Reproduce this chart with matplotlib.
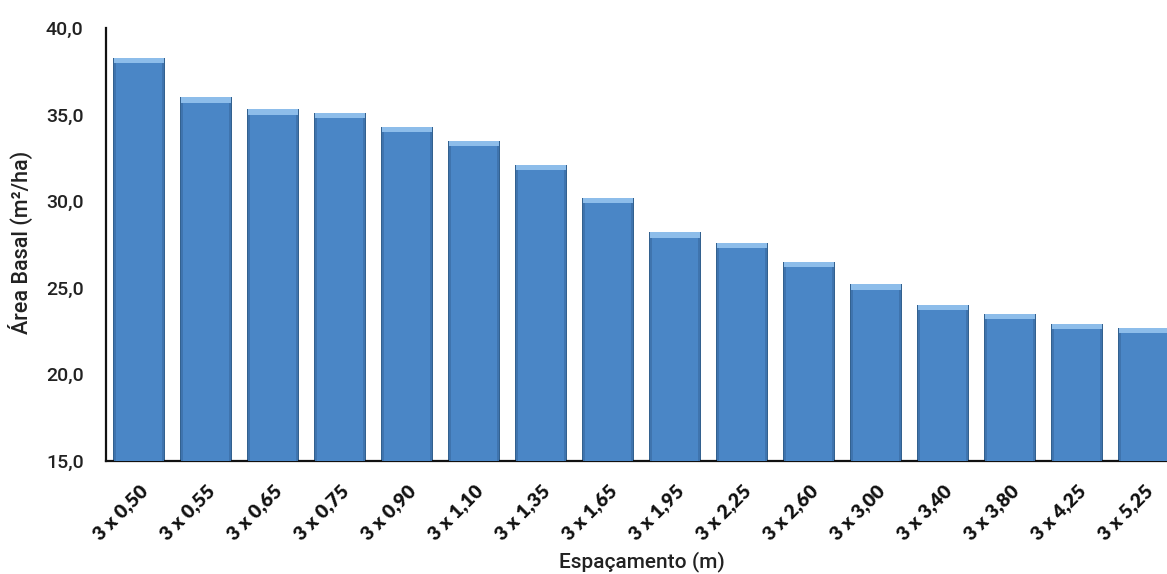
import matplotlib.pyplot as plt
from matplotlib.font_manager import FontProperties
import numpy as np

# Spacing treatments and basal area (m2/ha)
espacamentos = ['3 x 0,50', '3 x 0,55', '3 x 0,65', '3 x 0,75', '3 x 0,90', '3 x 1,10',
                '3 x 1,35', '3 x 1,65', '3 x 1,95', '3 x 2,25', '3 x 2,60', '3 x 3,00',
                '3 x 3,40', '3 x 3,80', '3 x 4,25', '3 x 5,25']
area_basal = [38.3, 36.0, 35.3, 35.1, 34.3, 33.5, 32.1, 30.2, 28.2, 27.6, 26.5, 25.2,
              24.0, 23.5, 22.9, 22.7]
y_ticks = [15, 20, 25, 30, 35, 40]

plt.rcParams['font.family'] = ['Roboto', 'DejaVu Sans']

fig = plt.figure(figsize=(11.67, 5.74), dpi=100)
ax = fig.add_axes([0.0908, 0.197, 0.9092, 0.754])

x = np.arange(len(espacamentos))
vals = np.array(area_basal)
base = 15

# bevelled look: dark outer bar, lighter inner layers, light cap on top
ax.bar(x, vals - base, bottom=base, width=0.78, color='#33618F', zorder=2)
ax.bar(x, vals - base, bottom=base, width=0.74, color='#3F74AE', zorder=3)
ax.bar(x, vals - base, bottom=base, width=0.68, color='#4A86C6', zorder=4)
ax.bar(x, 0.30, bottom=vals - 0.30, width=0.74, color='#8DBDEA', zorder=5)

ax.set_xlim(-0.49, 15.34)
ax.set_ylim(15, 40)
ax.set_yticks(y_ticks)
ax.set_yticklabels([f'{v:.1f}'.replace('.', ',') for v in y_ticks],
                   fontsize=14, fontweight='medium', color='#222222')
ax.set_xticks(x)
ax.set_xticklabels(espacamentos, rotation=45, ha='right', rotation_mode='anchor',
                   color='#111111')
xfont = FontProperties(family='Lato', weight='heavy', size=14)
for lbl in ax.get_xticklabels():
    lbl.set_fontproperties(xfont)
ax.tick_params(axis='both', length=0)
ax.tick_params(axis='x', pad=15)
ax.tick_params(axis='y', pad=16)

for s in ['top', 'right']:
    ax.spines[s].set_visible(False)
for s in ['left', 'bottom']:
    ax.spines[s].set_linewidth(1.6)
    ax.spines[s].set_color('#111111')

ax.set_ylabel('Área Basal (m²/ha)', fontsize=15.5, fontweight='medium', color='#222222')
ax.yaxis.set_label_coords(-0.069, 0.505)
fig.text(0.55, 0.021, 'Espaçamento (m)', fontsize=15, fontweight='medium',
         color='#222222', ha='center', va='center')

fig.savefig('out.png', dpi=100)
